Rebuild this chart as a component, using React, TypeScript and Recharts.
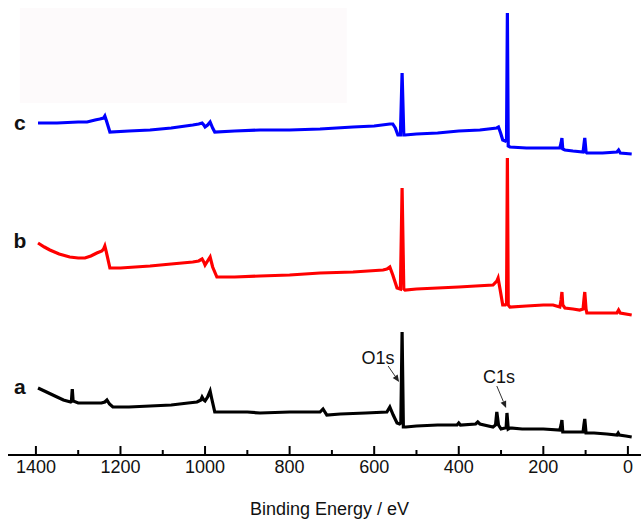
import React from 'react';
import { LineChart, Line, XAxis, YAxis, ReferenceDot, ReferenceLine, ReferenceArea } from 'recharts';

// Binding energy (eV) and intensity (a.u.) for each spectrum
const aEnergy = [1395,1375,1355,1335,1318,1316,1314,1312,1300,1272,1245,1237,1232,1226,1218,1180,1130,1080,1040,1019,1010,1007,1003,1000,994,988,984,977,950,900,870,800,740,728,721,712,680,620,570,563,555,546,540,537,534,531,525,500,450,404,400,396,360,355,350,319,313,310,306,300,291,288,286,283,279,250,200,161,158,156,154,140,120,106,104,102,99,80,50,26,23,20,5,-9];
const aIntensity = [67,63,59,55,53,54,66,54,52,52,52,53,55,51,48,48,49,50,52,53,55,58,55,54,58,64,56,43,43,43,42,43,43,43,46,40,41,42,43,48,40,32,31,32,123,28,28,29,30,30,32,30,31,33,31,28,30,43,30,26,27,27,42,26,27,26,26,25,30,35,23,23,23,23,30,36,22,22,21,20,22,20,19,18];

const bEnergy = [1395,1380,1367,1345,1320,1300,1284,1270,1256,1244,1240,1237,1234,1225,1200,1130,1080,1029,1015,1007,1003,1000,994,988,982,972,930,870,800,728,650,579,570,563,556,546,538,534,530,527,500,450,400,360,319,310,307,302,296,290,287,285,283,279,240,200,177,161,158,156,154,149,130,114,106,104,102,99,97,60,26,22,18,-9];
const bIntensity = [212,208,205,201,198,197,197,199,202,204,206,209,204,187,187,189,191,193,194,196,193,190,194,198,188,178,178,179,180,182,183,185,186,188,180,167,166,267,166,165,166,167,168,169,170,174,177,165,150,150,152,297,150,148,149,150,150,148,155,163,150,147,146,145,146,155,163,146,142,142,142,145,142,140];

const cEnergy = [1395,1350,1300,1279,1260,1249,1240,1237,1233,1225,1180,1130,1080,1029,1015,1007,1003,1000,994,988,982,977,930,870,800,728,650,600,563,556,550,544,538,534,530,527,500,450,400,350,310,306,301,296,290,287,285,283,279,240,200,161,158,156,154,149,130,106,104,102,99,97,60,26,22,18,-9];
const cIntensity = [332,332,333,333,335,336,337,339,334,323,324,325,327,330,331,332,330,328,330,333,327,323,324,325,325,326,328,329,331,331,327,320,320,382,320,320,321,322,324,325,327,328,322,315,314,316,442,309,308,307,307,307,312,317,306,305,304,303,310,317,303,302,302,303,305,302,301];

const xTicks = [0,100,200,300,400,500,600,700,800,900,1000,1100,1200,1300,1400];
const sampleLabels = ['a', 'b', 'c'];
const labelAnchors = [69, 215, 333];

const toData = (e: number[], v: number[]) => e.map((x, i) => ({ e: x, i: v[i] }));
const aData = toData(aEnergy, aIntensity);
const bData = toData(bEnergy, bIntensity);
const cData = toData(cEnergy, cIntensity);

const FONT = '"Liberation Sans", Arial, sans-serif';

const AxisTick = (props: any) => {
  const { x, y, payload } = props;
  const major = payload.value % 200 === 0;
  return (
    <g>
      <line x1={x} y1={y} x2={x} y2={y - (major ? 9 : 5)} stroke="#000" strokeWidth={2} />
      {major && (
        <text x={x} y={y + 18} textAnchor="middle" fontSize={18} fontFamily={FONT} fill="#111">
          {payload.value}
        </text>
      )}
    </g>
  );
};

const Arrow = (props: any) => {
  const { x1, y1, x2, y2 } = props;
  const dx = x2 - x1;
  const dy = y2 - y1;
  const len = Math.sqrt(dx * dx + dy * dy) || 1;
  const ux = dx / len;
  const uy = dy / len;
  const hl = 7;
  const hw = 3;
  const bx = x2 - ux * hl;
  const by = y2 - uy * hl;
  return (
    <g>
      <line x1={x1} y1={y1} x2={bx} y2={by} stroke="#333" strokeWidth={1} />
      <polygon
        points={`${x2},${y2} ${bx - uy * hw},${by + ux * hw} ${bx + uy * hw},${by - ux * hw}`}
        fill="#222"
      />
    </g>
  );
};

const textShape = (txt: string, size: number, bold: boolean) => (p: any) => (
  <text
    x={p.cx}
    y={p.cy}
    textAnchor="middle"
    dominantBaseline="central"
    fontSize={size}
    fontWeight={bold ? 'bold' : 'normal'}
    fontFamily={FONT}
    fill="#111"
  >
    {txt}
  </text>
);

export default function App() {
  return (
    <div style={{ position: 'absolute', left: 0, top: 0, background: '#fff' }}>
      <LineChart width={641} height={521} margin={{ top: 0, right: 0, bottom: 0, left: 8 }}>
        <XAxis
          type="number"
          dataKey="e"
          domain={[-31, 1466]}
          reversed
          allowDataOverflow
          ticks={xTicks}
          interval={0}
          tick={<AxisTick />}
          tickLine={false}
          tickSize={0}
          tickMargin={0}
          axisLine={{ stroke: '#000', strokeWidth: 2 }}
          height={66}
          label={{
            value: 'Binding Energy / eV',
            position: 'insideBottom',
            offset: 6,
            fontSize: 18,
            fontFamily: FONT,
            fill: '#111',
            dx: 5,
          }}
        />
        <YAxis type="number" domain={[0, 455]} hide allowDataOverflow />
        <ReferenceArea x1={1438} x2={665} y1={352} y2={447} fill="#fdfafb" fillOpacity={1} stroke="none" />
        <Line data={aData} dataKey="i" type="linear" stroke="#000000" strokeWidth={3.2} dot={false} isAnimationActive={false} />
        <Line data={bData} dataKey="i" type="linear" stroke="#ff0000" strokeWidth={3.2} dot={false} isAnimationActive={false} />
        <Line data={cData} dataKey="i" type="linear" stroke="#0000ff" strokeWidth={3.2} dot={false} isAnimationActive={false} />
        {sampleLabels.map((s, k) => (
          <ReferenceDot key={s} x={1438} y={labelAnchors[k]} r={0} shape={textShape(s, 21, true)} />
        ))}
        <ReferenceDot x={591} y={97} r={0} shape={textShape('O1s', 18, false)} />
        <ReferenceDot x={305} y={78} r={0} shape={textShape('C1s', 18, false)} />
        <ReferenceLine segment={[{ x: 567, y: 89 }, { x: 541, y: 73 }]} shape={<Arrow />} />
        <ReferenceLine segment={[{ x: 310, y: 69 }, { x: 288, y: 47 }]} shape={<Arrow />} />
      </LineChart>
    </div>
  );
}
